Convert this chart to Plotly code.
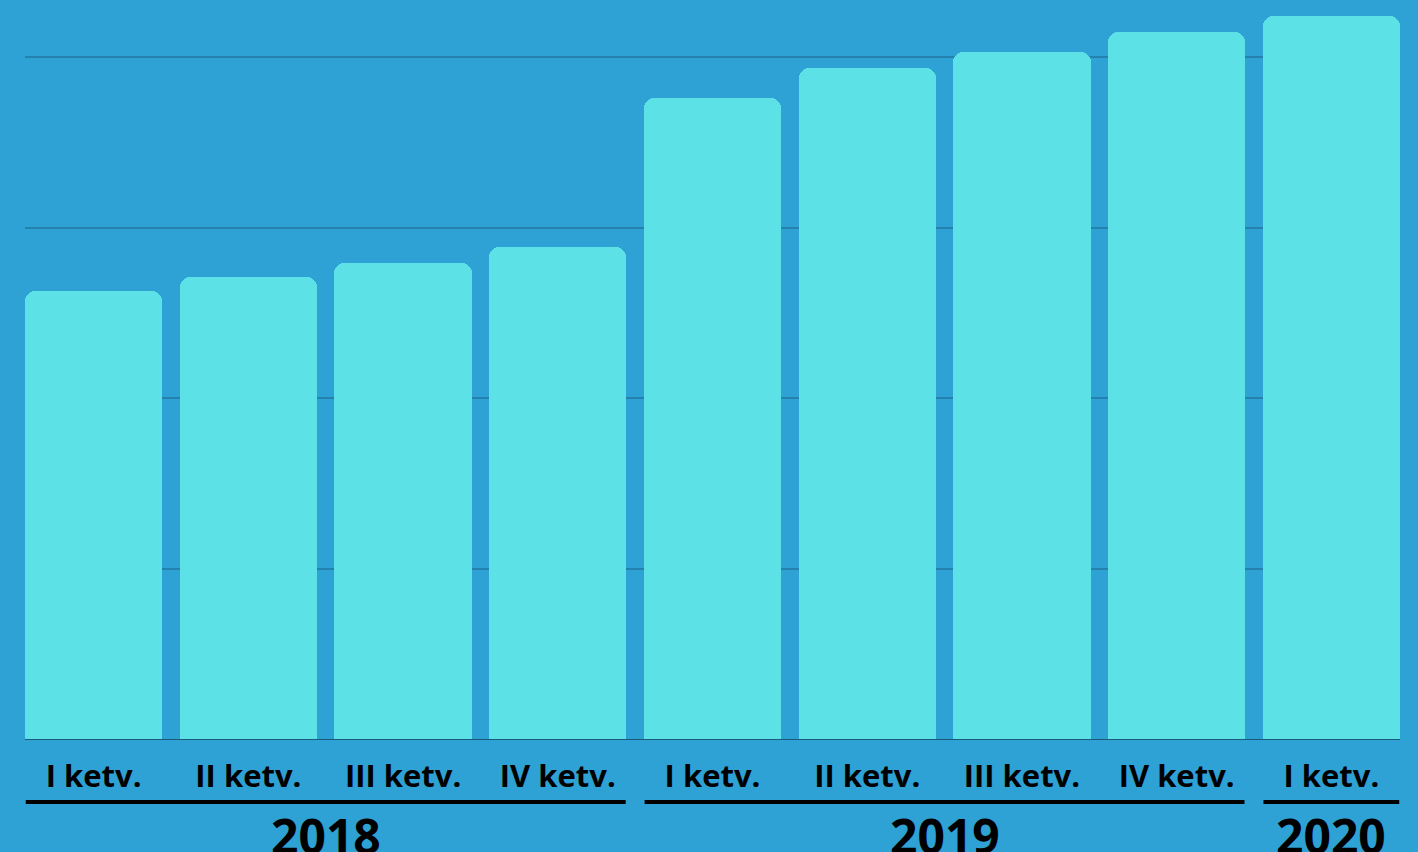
import plotly.graph_objects as go

# Data
quarters = ["I ketv.", "II ketv.", "III ketv.", "IV ketv.",
            "I ketv.", "II ketv.", "III ketv.", "IV ketv.", "I ketv."]
values = [263.1, 271.3, 279.5, 288.9, 376.3, 393.6, 403.0, 414.7, 424.3]
years = ["2018", "2019", "2020"]
year_start = [0, 4, 8]
year_end = [3, 7, 8]

BG = "#2EA1D5"
BAR = "#5CE1E6"
GRID = "#2581AE"
W = 0.8875

x = list(range(len(values)))

fig = go.Figure()
fig.add_trace(go.Bar(
    x=x, y=values, width=W,
    marker=dict(color=BAR, line=dict(width=0), cornerradius=10),
    hoverinfo="skip",
))

font_bold = dict(family="Open Sans", color="#000000", weight="bold")

shapes = []
annotations = []
for yr, s, e in zip(years, year_start, year_end):
    shapes.append(dict(type="line", xref="x", yref="paper",
                       x0=s - W / 2 + 0.005, x1=e + W / 2 - 0.005,
                       y0=-0.0853, y1=-0.0853,
                       line=dict(color="#000000", width=4)))
    annotations.append(dict(text=yr, xref="x", yref="paper",
                            x=(s + e) / 2, y=-0.13, yanchor="middle",
                            xanchor="center", showarrow=False,
                            font=dict(size=48, **font_bold)))

fig.update_layout(
    width=1418, height=852,
    paper_bgcolor=BG, plot_bgcolor=BG,
    margin=dict(l=25, r=18, t=0, b=113),
    showlegend=False,
    bargap=0,
    xaxis=dict(range=[-W / 2, len(values) - 1 + W / 2],
               tickvals=x, ticktext=quarters,
               tickfont=dict(size=31, **font_bold),
               ticks="", showline=True, linecolor="#1B5A78", linewidth=1,
               showgrid=False, zeroline=False, ticklabelstandoff=10,
               fixedrange=True),
    yaxis=dict(range=[0, 433.7], dtick=100, showticklabels=False,
               showgrid=True, gridcolor=GRID, gridwidth=2,
               zeroline=False, showline=False, ticks="", fixedrange=True),
    shapes=shapes,
    annotations=annotations,
)

fig.write_html("out.html", config={"displayModeBar": False},
               post_script="document.body.style.margin='0';document.body.style.overflow='hidden';")
